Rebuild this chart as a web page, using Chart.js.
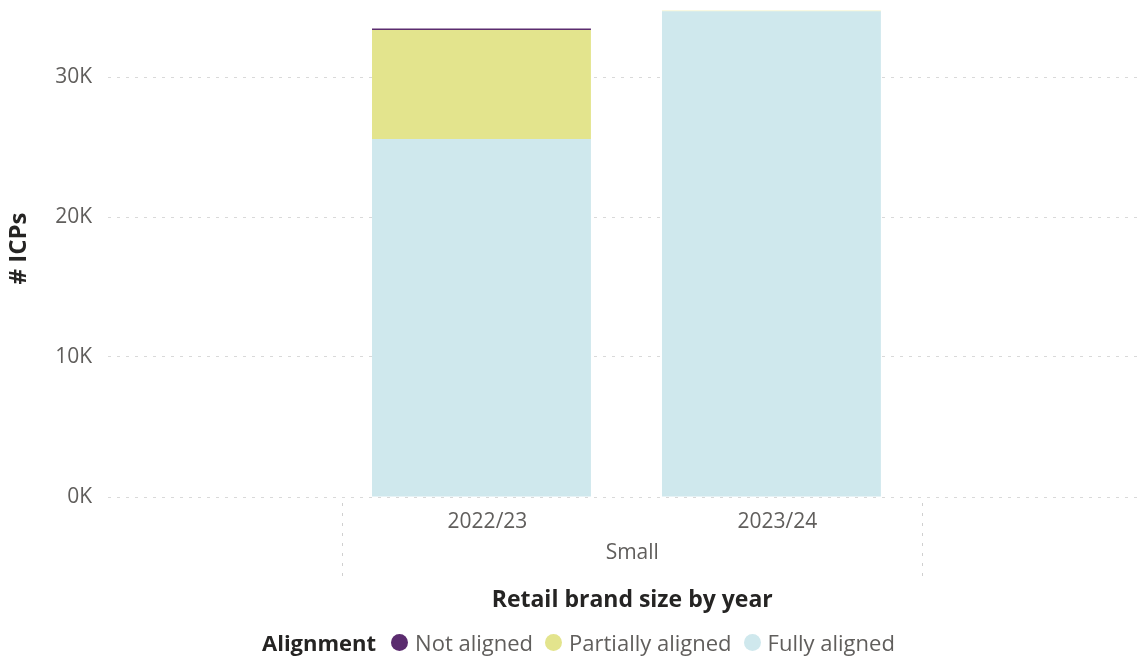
<!DOCTYPE html>
<html>
<head>
<meta charset="utf-8">
<script src="https://cdn.jsdelivr.net/npm/chart.js@4.4.1/dist/chart.umd.min.js"></script>
<style>
    html, body { margin:0; padding:0; background:#fff; }
    #wrap { position:relative; width:1142px; height:659px; }
    #legend {
        position:absolute; left:262px; top:627px;
        font-family:"Open Sans", sans-serif; font-size:22px; color:#605E5C;
        display:flex; align-items:center; white-space:nowrap;
    }
    #legend .title { font-weight:bold; color:#252423; margin-right:15px; }
    #legend .item { display:flex; align-items:center; margin-right:12px; }
    #legend .dot { width:17px; height:17px; border-radius:50%; margin-right:7px; }
</style>
</head>
<body>
<div id="wrap">
    <canvas id="icpChart" width="1142" height="659"></canvas>
    <div id="legend"></div>
</div>
<script>
/* =========================
   DATA
========================= */

const categories = ["2022/23", "2023/24"];
const groupLabel = "Small";

const seriesNames = ["Not aligned", "Partially aligned", "Fully aligned"];
const seriesColors = ["#5B2C6F", "#E3E48D", "#CFE8ED"];

const notAligned = [100, 0];
const partiallyAligned = [7790, 40];
const fullyAligned = [25570, 34700];

const yTicks = [0, 10000, 20000, 30000];


/* =========================
   GROUP AXIS DECORATION
========================= */

const groupAxisPlugin = {

    id:"groupAxis",

    afterDraw(chart){

        const ctx = chart.ctx;
        const x = chart.scales.x;

        const left = x.getPixelForValue(-0.48);
        const right = x.getPixelForValue(1.52);
        const mid = x.getPixelForValue(0.52);

        ctx.save();

        ctx.strokeStyle = "#d0d0d0";
        ctx.lineWidth = 1;
        ctx.setLineDash([3, 7]);

        [left, right].forEach(px => {
            ctx.beginPath();
            ctx.moveTo(Math.round(px) + 0.5, x.top + 6);
            ctx.lineTo(Math.round(px) + 0.5, x.top + 80);
            ctx.stroke();
        });

        ctx.textAlign = "center";
        ctx.textBaseline = "middle";

        ctx.fillStyle = "#605E5C";
        ctx.font = "21px 'Open Sans'";
        ctx.fillText(groupLabel, mid, x.top + 56);

        ctx.fillStyle = "#252423";
        ctx.font = "bold 23px 'Open Sans'";
        ctx.fillText("Retail brand size by year", mid, x.top + 103);

        ctx.restore();

    }

};


/* =========================
   CHART
========================= */

const dataSets = [fullyAligned, partiallyAligned, notAligned].map((values, i) => {

    const idx = 2 - i;

    return {
        label:seriesNames[idx],
        data:values.map((v, k) => ({ x:k, y:v })),
        backgroundColor:seriesColors[idx],
        borderWidth:0,
        categoryPercentage:1,
        barPercentage:0.755
    };

});

new Chart(document.getElementById("icpChart"), {

    type:"bar",

    data:{ datasets:dataSets },

    plugins:[groupAxisPlugin],

    options:{

        responsive:false,
        animation:false,

        layout:{ padding:0 },

        plugins:{
            legend:{ display:false },
            tooltip:{ enabled:false }
        },

        scales:{

            x:{
                type:"linear",
                stacked:true,
                offset:false,
                min:-1.288,
                max:2.278,
                grid:{ display:false, offset:false },
                border:{ display:false },
                afterBuildTicks:axis => {
                    axis.ticks = categories.map((c, i) => ({ value:i }));
                },
                afterFit:axis => {
                    axis.height = 162;
                    axis.paddingLeft = 0;
                    axis.paddingRight = 0;
                },
                ticks:{
                    padding:4,
                    labelOffset:6,
                    color:"#605E5C",
                    font:{ family:"Open Sans", size:21 },
                    callback:value => categories[value] ?? ""
                }
            },

            y:{
                stacked:true,
                min:0,
                max:35500,
                grid:{
                    color:"#d9d9d9",
                    drawTicks:false
                },
                border:{ display:false, dash:[3, 6] },
                afterBuildTicks:axis => {
                    axis.ticks = yTicks.map(v => ({ value:v }));
                },
                afterFit:axis => {
                    axis.width = 108;
                    axis.paddingTop = 0;
                    axis.paddingBottom = 0;
                },
                ticks:{
                    padding:16,
                    color:"#605E5C",
                    font:{ family:"Open Sans", size:21 },
                    callback:value => value / 1000 + "K"
                },
                title:{
                    display:true,
                    text:"# ICPs",
                    color:"#252423",
                    padding:{ top:5, bottom:0 },
                    font:{ family:"Open Sans", size:24, weight:"bold" }
                }
            }

        }

    }

});


/* =========================
   LEGEND
========================= */

const legend = document.getElementById("legend");

legend.innerHTML =
    '<span class="title">Alignment</span>' +
    seriesNames.map((name, i) =>
        '<span class="item"><span class="dot" style="background:' +
        seriesColors[i] + '"></span>' + name + '</span>'
    ).join("");
</script>
</body>
</html>
